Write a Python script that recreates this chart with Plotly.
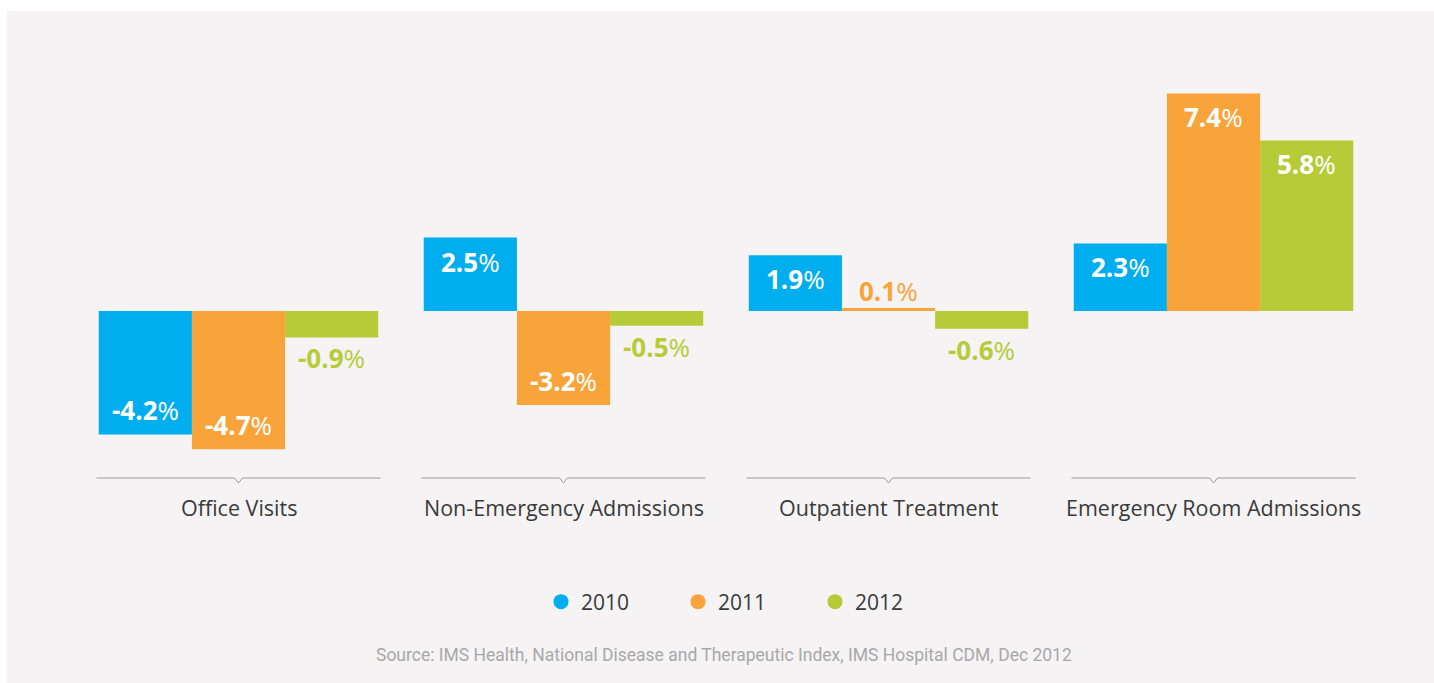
import plotly.graph_objects as go

categories = ["Office Visits", "Non-Emergency Admissions", "Outpatient Treatment", "Emergency Room Admissions"]
years = ["2010", "2011", "2012"]
v2010 = [-4.2, 2.5, 1.9, 2.3]
v2011 = [-4.7, -3.2, 0.1, 7.4]
v2012 = [-0.9, -0.5, -0.6, 5.8]
series = [v2010, v2011, v2012]
colors = ["#00AEEF", "#F8A43B", "#B5CC38"]
source = "Source: IMS Health, National Disease and Therapeutic Index, IMS Hospital CDM, Dec 2012"

# body margin is removed by the post script, so screen coords = figure coords
OFF = 0
W, H = 1434, 683
T, B = 60, 193
L, R = 76, 58
ph = H - T - B
pw = W - L - R
ymax, ymin = 8.537, -6.088
axis_y = -5.68
bargap = 0.14
FONT = "Open Sans"

fig = go.Figure()
for name, vals, col in zip(years, series, colors):
    fig.add_trace(go.Bar(x=categories, y=vals, name=name, marker=dict(color=col, line=dict(width=0)),
                         showlegend=False, hoverinfo="skip"))
for name, col in zip(years, colors):
    fig.add_trace(go.Scatter(x=[None], y=[None], mode="markers", name=name,
                             marker=dict(color=col, size=15, symbol="circle")))


def py_(sy):
    """screen y pixel -> paper y"""
    return (H - B - (sy - OFF)) / ph


def px_(sx):
    """screen x pixel -> paper x"""
    return (sx - OFF - L) / pw


annotations = []
bw = (1 - bargap) / 3
for k, (vals, col) in enumerate(zip(series, colors)):
    for i, v in enumerate(vals):
        x = i + (k - 1) * bw
        inside = abs(v) >= 1.5
        txt = "<b>%s</b>%%" % ("%.1f" % v)
        if inside:
            ys = -24 if v > 0 else 24
            c = "white"
        else:
            ys = 17 if v > 0 else -21
            c = col
        annotations.append(dict(x=x, y=v, xref="x", yref="y", text=txt, showarrow=False,
                                yshift=ys, yanchor="middle", xanchor="center",
                                font=dict(family=FONT, size=26, color=c)))

for i, c in enumerate(categories):
    annotations.append(dict(x=i, y=py_(507), xref="x", yref="paper", text=c, showarrow=False,
                            yanchor="middle", xanchor="center",
                            font=dict(family=FONT, size=21.5, color="#3a3a3a")))

annotations.append(dict(x=px_(724), y=py_(655), xref="paper", yref="paper", text=source,
                        showarrow=False, xanchor="center", yanchor="middle",
                        font=dict(family="Liberation Sans Narrow, Roboto, sans-serif", size=17.5,
                                  color="#A8A8A8")))

shapes = [dict(type="rect", xref="paper", yref="paper", x0=px_(7), x1=px_(1440),
               y0=py_(690), y1=py_(11), fillcolor="#F5F3F4", line=dict(width=0),
               layer="below")]
half = 0.437
dx = 4 / 325
dy = 5 / 29.4
for i in range(len(categories)):
    path = "M %f %f L %f %f L %f %f L %f %f L %f %f" % (
        i - half, axis_y, i - dx, axis_y, i, axis_y - dy, i + dx, axis_y, i + half, axis_y)
    shapes.append(dict(type="path", xref="x", yref="y", path=path,
                       line=dict(color="#9a9a9a", width=1), layer="above"))

fig.update_layout(
    width=W, height=H,
    margin=dict(l=L, r=R, t=T, b=B, pad=0),
    paper_bgcolor="white", plot_bgcolor="rgba(0,0,0,0)",
    barmode="group", bargap=bargap, bargroupgap=0,
    hovermode=False,
    xaxis=dict(range=[-0.5, 3.5], showticklabels=False, showgrid=False, zeroline=False, showline=False,
               ticks=""),
    yaxis=dict(range=[ymin, ymax], showticklabels=False, showgrid=False, zeroline=False, showline=False,
               ticks=""),
    showlegend=True,
    legend=dict(orientation="h", x=px_(541), xanchor="left", y=py_(602), yanchor="middle",
                entrywidth=92, entrywidthmode="pixels", bgcolor="rgba(0,0,0,0)",
                font=dict(family=FONT, size=21, color="#3a3a3a"), itemsizing="trace"),
    annotations=annotations, shapes=shapes,
)

fig.write_html("out.html", config={"displayModeBar": False},
               post_script="document.body.style.margin='0';document.body.style.overflow='hidden';")
